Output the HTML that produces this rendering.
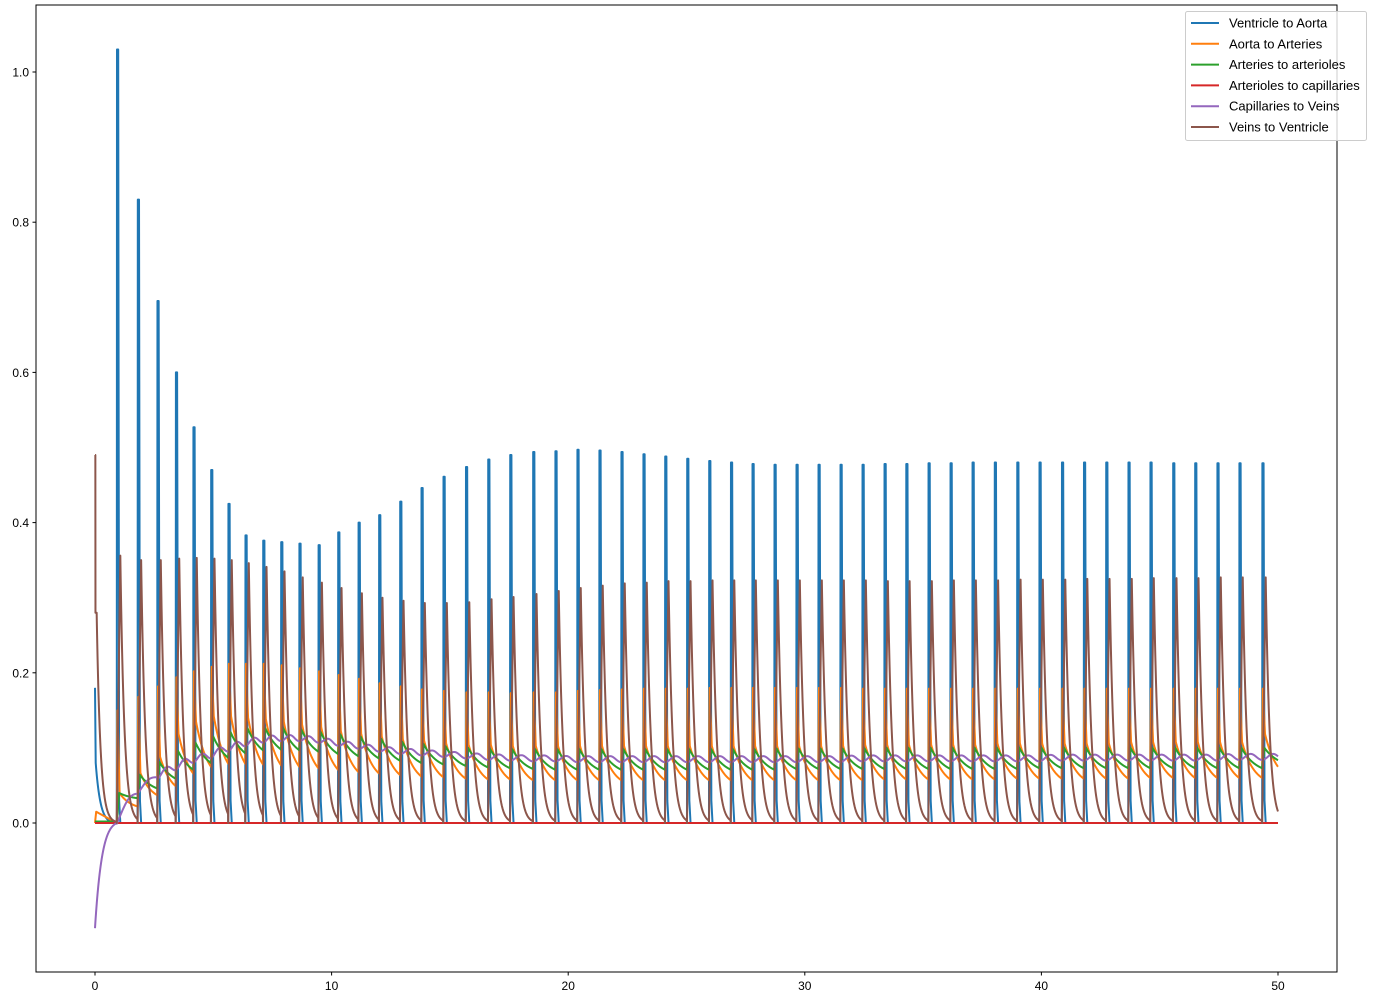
<!DOCTYPE html>
<html><head><meta charset="utf-8"><style>
body{margin:0;background:#fff;}
svg{display:block;font-family:"Liberation Sans","DejaVu Sans",sans-serif;}
</style></head><body>
<svg id="chart" width="1400" height="1000" viewBox="0 0 1400 1000">
<rect x="0" y="0" width="1400" height="1000" fill="#fff"/>
<g id="series"></g>
<rect x="36" y="5" width="1301" height="967" fill="none" stroke="#000" stroke-width="1"/>
<g id="xticks"></g>
<g id="yticks"></g>
<g>
<rect x="1185.5" y="11.5" width="181" height="129" fill="#fff" fill-opacity="0.8" stroke="#ccc" rx="2"/>
<g id="legend"></g>
</g>
</svg>
<script>
const beatTimes=[0.92,1.80,2.63,3.41,4.15,4.90,5.63,6.35,7.10,7.86,8.63,9.44,10.27,11.13,12.00,12.89,13.79,14.72,15.67,16.61,17.54,18.51,19.45,20.38,21.31,22.24,23.17,24.09,25.02,25.95,26.87,27.78,28.71,29.64,30.57,31.50,32.43,33.36,34.28,35.22,36.15,37.08,38.02,38.97,39.91,40.86,41.79,42.73,43.67,44.60,45.56,46.49,47.43,48.36,49.33];
const ventricleAortaPeaks=[1.03,0.83,0.695,0.60,0.527,0.47,0.425,0.383,0.376,0.374,0.372,0.37,0.387,0.40,0.41,0.428,0.446,0.461,0.474,0.484,0.490,0.494,0.495,0.497,0.496,0.494,0.491,0.488,0.485,0.482,0.480,0.478,0.477,0.477,0.477,0.477,0.477,0.478,0.478,0.479,0.479,0.480,0.480,0.480,0.480,0.480,0.480,0.480,0.480,0.480,0.479,0.479,0.479,0.479,0.479];
const veinsVentriclePeaks=[0.356,0.350,0.350,0.352,0.353,0.352,0.350,0.346,0.341,0.335,0.327,0.320,0.313,0.306,0.300,0.296,0.293,0.293,0.294,0.298,0.301,0.305,0.309,0.313,0.316,0.319,0.320,0.322,0.322,0.323,0.323,0.323,0.323,0.323,0.323,0.323,0.323,0.322,0.322,0.322,0.323,0.323,0.323,0.324,0.324,0.324,0.325,0.325,0.325,0.326,0.326,0.326,0.327,0.327,0.327];
const aortaArteriesPeaks=[0.150,0.168,0.182,0.194,0.202,0.208,0.212,0.212,0.212,0.210,0.206,0.202,0.197,0.192,0.186,0.182,0.178,0.176,0.174,0.174,0.173,0.174,0.174,0.176,0.177,0.178,0.179,0.179,0.179,0.180,0.180,0.180,0.180,0.180,0.180,0.180,0.179,0.179,0.179,0.179,0.179,0.179,0.179,0.179,0.179,0.179,0.179,0.179,0.179,0.179,0.179,0.179,0.179,0.179,0.179];
const aortaArteriesTroughs=[0.022,0.037,0.049,0.066,0.075,0.079,0.079,0.078,0.077,0.075,0.073,0.071,0.068,0.066,0.064,0.062,0.061,0.059,0.058,0.058,0.057,0.057,0.057,0.057,0.057,0.057,0.057,0.057,0.057,0.057,0.057,0.057,0.057,0.057,0.057,0.057,0.058,0.058,0.058,0.058,0.058,0.058,0.059,0.059,0.059,0.059,0.059,0.059,0.060,0.060,0.060,0.060,0.060,0.060,0.066];
const arteriesArteriolesPeaks=[0.040,0.064,0.081,0.096,0.107,0.115,0.121,0.126,0.126,0.126,0.124,0.121,0.118,0.115,0.112,0.108,0.105,0.102,0.100,0.098,0.098,0.098,0.098,0.098,0.098,0.098,0.098,0.098,0.098,0.098,0.098,0.098,0.099,0.099,0.099,0.099,0.099,0.100,0.100,0.100,0.100,0.100,0.100,0.100,0.100,0.100,0.100,0.100,0.100,0.100,0.100,0.100,0.100,0.100,0.100];
const arteriesArteriolesTroughs=[0.033,0.046,0.059,0.071,0.080,0.087,0.093,0.097,0.098,0.097,0.095,0.092,0.089,0.086,0.083,0.080,0.078,0.076,0.074,0.073,0.072,0.071,0.071,0.071,0.071,0.071,0.071,0.071,0.071,0.071,0.071,0.071,0.072,0.072,0.072,0.072,0.072,0.072,0.072,0.072,0.072,0.072,0.072,0.073,0.073,0.073,0.073,0.073,0.073,0.073,0.073,0.073,0.073,0.073,0.080];
const capillariesVeinsMeans=[0.0,0.040,0.062,0.074,0.084,0.090,0.099,0.106,0.111,0.113,0.113,0.111,0.107,0.103,0.099,0.096,0.094,0.092,0.090,0.088,0.087,0.086,0.086,0.085,0.085,0.085,0.085,0.085,0.085,0.085,0.085,0.085,0.085,0.085,0.085,0.085,0.086,0.086,0.086,0.086,0.086,0.086,0.086,0.086,0.086,0.087,0.087,0.087,0.087,0.087,0.087,0.087,0.087,0.088,0.088];
const initialValues={blue0:0.18,blue1:0.08,brown0:0.49,brown1:0.28,orange1:0.015,green1:0.002,purple0:-0.14};
const xTicks=[0,10,20,30,40,50];
const yTicks=[0.0,0.2,0.4,0.6,0.8,1.0];
const seriesNames=["Ventricle to Aorta","Aorta to Arteries","Arteries to arterioles","Arterioles to capillaries","Capillaries to Veins","Veins to Ventricle"];
const seriesColors=["#1f77b4","#ff7f0e","#2ca02c","#d62728","#9467bd","#8c564b"];

const X=t=>95+t*23.66;
const Y=v=>823-v*751;
const NS="http://www.w3.org/2000/svg";
const T_END=50;

function segDur(k){return k+1<beatTimes.length?beatTimes[k+1]-beatTimes[k]:0.93;}
function sampleTimes(){
  const ts=[];for(let t=0;t<=T_END+1e-9;t+=0.005)ts.push(+t.toFixed(4));
  beatTimes.forEach(b=>{for(const d of [0,0.01,0.02,0.03,0.06,0.1,0.12,0.15])ts.push(b+d);});
  return ts.filter(t=>t<=T_END).sort((a,b)=>a-b);
}
function beatIndex(t){let k=-1;for(let i=0;i<beatTimes.length;i++){if(t>=beatTimes[i])k=i;else break;}return k;}
function decayTo(s,s0,D,from,to,tau){const e=Math.exp(-(D-s0)/tau);const f=(Math.exp(-(s-s0)/tau)-e)/(1-e);return to+(from-to)*f;}

function blueAt(t){const k=beatIndex(t);
  if(k<0){if(t<0.03)return initialValues.blue0+(initialValues.blue1-initialValues.blue0)*t/0.03;return initialValues.blue1*Math.exp(-(t-0.03)/0.25)*Math.max(0,(0.92-t)/0.89);}
  const s=t-beatTimes[k],P=ventricleAortaPeaks[k];
  if(s<0.01)return P*s/0.01;if(s<0.06)return P;if(s<0.1)return P+(0.03-P)*(s-0.06)/0.04;if(s<0.15)return 0.03*(0.15-s)/0.05;return 0;}
function brownAt(t){const k=beatIndex(t);
  if(k<0){if(t<0.02)return initialValues.brown0;if(t<0.07)return initialValues.brown1;return initialValues.brown1*Math.exp(-(t-0.07)/0.16);}
  const s=t-beatTimes[k],B=veinsVentriclePeaks[k];
  if(s<0.15)return B*s/0.15;return B*Math.exp(-(s-0.15)/0.17);}
function orangeAt(t){const k=beatIndex(t);
  if(k<0){if(t<0.05)return initialValues.orange1*t/0.05;return initialValues.orange1*(0.92-t)/0.87;}
  const s=t-beatTimes[k],D=segDur(k),P=aortaArteriesPeaks[k],Tr=aortaArteriesTroughs[k];
  const prev=k>0?aortaArteriesTroughs[k-1]:0,M=Tr*1.8;
  if(s<0.03)return prev+(P-prev)*s/0.03;if(s<0.12)return P+(M-P)*(s-0.03)/0.09;return decayTo(s,0.12,D,M,Tr,0.5);}
function greenAt(t){const k=beatIndex(t);
  if(k<0)return initialValues.green1;
  const s=t-beatTimes[k],D=segDur(k),G=arteriesArteriolesPeaks[k],Tr=arteriesArteriolesTroughs[k];
  const prev=k>0?arteriesArteriolesTroughs[k-1]:0;
  if(s<0.1)return prev+(G-prev)*s/0.1;return decayTo(s,0.1,D,G,Tr,0.6);}
function purpleAt(t){const k=beatIndex(t);
  if(k<0)return initialValues.purple0*Math.exp(-t/0.4)*(1-t/0.92);
  const s=t-beatTimes[k],D=segDur(k);
  const a=capillariesVeinsMeans[k],b=k+1<capillariesVeinsMeans.length?capillariesVeinsMeans[k+1]:a;
  const amp=k<2?0.001:0.004;
  return a+(b-a)*Math.sin(Math.PI/2*s/D)-amp*Math.cos(2*Math.PI*s/D);}
function redAt(t){return 0;}

const fns=[blueAt,orangeAt,greenAt,redAt,purpleAt,brownAt];
const names=["series-ventricle-to-aorta","series-aorta-to-arteries","series-arteries-to-arterioles","series-arterioles-to-capillaries","series-capillaries-to-veins","series-veins-to-ventricle"];
const ts=sampleTimes();
const g=document.getElementById('series');
fns.forEach((f,i)=>{
  const d=ts.map((t,j)=>(j?'L':'M')+X(t).toFixed(2)+' '+Y(f(t)).toFixed(2)).join('');
  const p=document.createElementNS(NS,'path');
  p.setAttribute('d',d);p.setAttribute('fill','none');p.setAttribute('stroke',seriesColors[i]);
  p.setAttribute('stroke-width','2');p.setAttribute('stroke-linejoin','round');
  
  
  g.appendChild(p);
});
const xg=document.getElementById('xticks');
xTicks.forEach(v=>{
  const l=document.createElementNS(NS,'line');
  l.setAttribute('x1',X(v));l.setAttribute('x2',X(v));l.setAttribute('y1',972);l.setAttribute('y2',975.5);l.setAttribute('stroke','#000');
  
  
  xg.appendChild(l);
  const tx=document.createElementNS(NS,'text');
  tx.setAttribute('x',X(v));tx.setAttribute('y',990);tx.setAttribute('text-anchor','middle');tx.setAttribute('font-size','12');
  tx.textContent=String(v);
  
  
  xg.appendChild(tx);
});
const yg=document.getElementById('yticks');
yTicks.forEach(v=>{
  const l=document.createElementNS(NS,'line');
  l.setAttribute('x1',32.5);l.setAttribute('x2',36);l.setAttribute('y1',Y(v));l.setAttribute('y2',Y(v));l.setAttribute('stroke','#000');
  
  
  yg.appendChild(l);
  const tx=document.createElementNS(NS,'text');
  tx.setAttribute('x',29);tx.setAttribute('y',Y(v)+4.5);tx.setAttribute('text-anchor','end');tx.setAttribute('font-size','12');
  tx.textContent=v.toFixed(1);
  
  
  yg.appendChild(tx);
});
const lg=document.getElementById('legend');
seriesNames.forEach((n,i)=>{
  const y=23+i*20.8;
  const l=document.createElementNS(NS,'line');
  l.setAttribute('x1',1191);l.setAttribute('x2',1219);l.setAttribute('y1',y);l.setAttribute('y2',y);
  l.setAttribute('stroke',seriesColors[i]);l.setAttribute('stroke-width','2');
  
  
  lg.appendChild(l);
  const tx=document.createElementNS(NS,'text');
  tx.setAttribute('x',1229);tx.setAttribute('y',y+4.5);tx.setAttribute('font-size','13');
  tx.textContent=n;
  
  
  lg.appendChild(tx);
});
</script>
</body></html>
